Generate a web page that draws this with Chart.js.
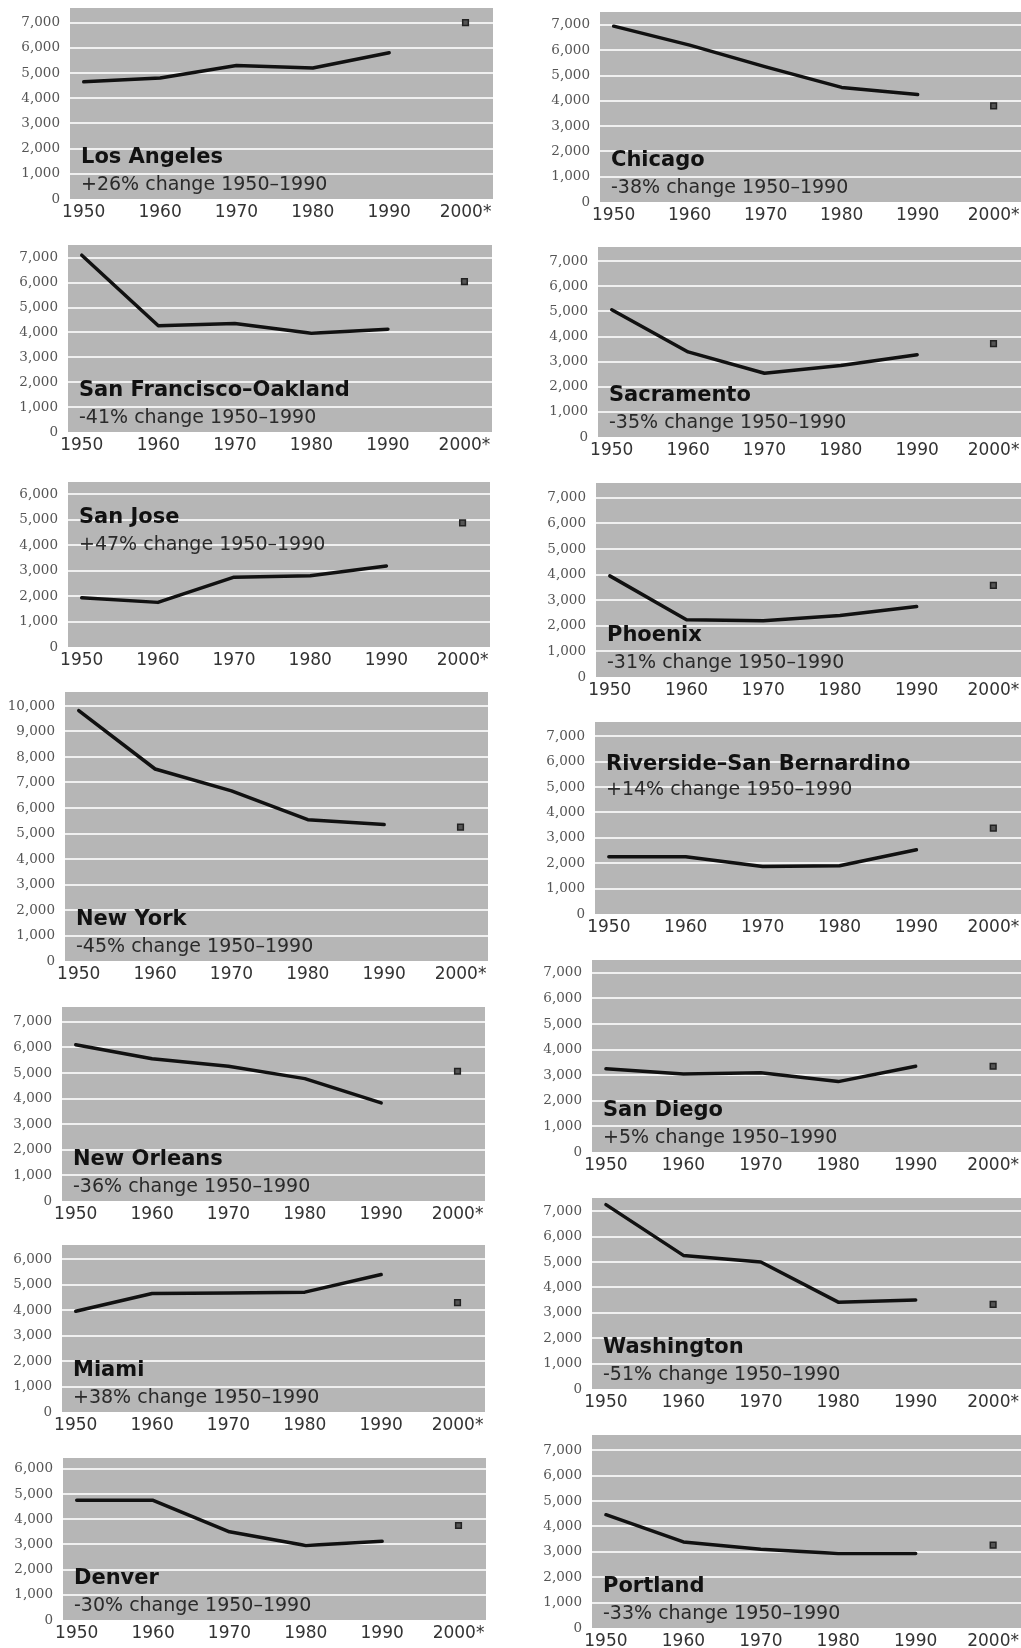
<!DOCTYPE html>
<html><head><meta charset="utf-8">
<script src="https://cdn.jsdelivr.net/npm/chart.js@4.4.1/dist/chart.umd.min.js"></script>
<style>
html,body{margin:0;padding:0;background:#fff;}
body{width:1021px;height:1648px;position:relative;overflow:hidden;}
.panel{position:absolute;}
</style></head><body>
<script>
// ---- data ----
const years = [1950, 1960, 1970, 1980, 1990];
const projectionYear = 2000;
const xTickYears = [1950, 1960, 1970, 1980, 1990, 2000];
const xTickLabels = ['1950', '1960', '1970', '1980', '1990', '2000*'];
const yTicks6000 = [0, 1000, 2000, 3000, 4000, 5000, 6000];
const yTicks7000 = [0, 1000, 2000, 3000, 4000, 5000, 6000, 7000];
const yTicks10000 = [0, 1000, 2000, 3000, 4000, 5000, 6000, 7000, 8000, 9000, 10000];

const cities = ['Los Angeles', 'Chicago', 'San Francisco–Oakland', 'Sacramento', 'San Jose', 'Phoenix',
  'New York', 'Riverside–San Bernardino', 'New Orleans', 'San Diego', 'Miami', 'Washington', 'Denver', 'Portland'];
const changeLabels = ['+26% change 1950–1990', '-38% change 1950–1990', '-41% change 1950–1990',
  '-35% change 1950–1990', '+47% change 1950–1990', '-31% change 1950–1990', '-45% change 1950–1990',
  '+14% change 1950–1990', '-36% change 1950–1990', '+5% change 1950–1990', '+38% change 1950–1990',
  '-51% change 1950–1990', '-30% change 1950–1990', '-33% change 1950–1990'];

const losAngeles = [4650, 4800, 5300, 5200, 5800];
const chicago = [6950, 6200, 5340, 4530, 4250];
const sanFranciscoOakland = [7100, 4270, 4360, 3970, 4130];
const sacramento = [5070, 3390, 2540, 2850, 3280];
const sanJose = [1930, 1750, 2740, 2790, 3180];
const phoenix = [3950, 2240, 2200, 2400, 2750];
const newYork = [9820, 7530, 6670, 5540, 5350];
const riversideSanBernardino = [2250, 2250, 1870, 1900, 2530];
const newOrleans = [6100, 5560, 5260, 4780, 3830];
const sanDiego = [3250, 3050, 3100, 2750, 3350];
const miami = [3950, 4650, 4670, 4700, 5390];
const washington = [7260, 5260, 5000, 3420, 3500];
const denver = [4750, 4750, 3500, 2960, 3125];
const portland = [4460, 3390, 3100, 2930, 2930];
const projected2000 = [7000, 3800, 6040, 3720, 4870, 3580, 5250, 3380, 5070, 3350, 4290, 3330, 3750, 3260];

const series = [losAngeles, chicago, sanFranciscoOakland, sacramento, sanJose, phoenix, newYork,
  riversideSanBernardino, newOrleans, sanDiego, miami, washington, denver, portland];
const yTickSets = [yTicks7000, yTicks7000, yTicks7000, yTicks7000, yTicks6000, yTicks7000, yTicks10000,
  yTicks7000, yTicks7000, yTicks7000, yTicks6000, yTicks7000, yTicks6000, yTicks7000];

// ---- layout (pixels) ----
const layout = [
  {left:70, right:493, top:8, zero:199, per:25.2},
  {left:600, right:1021, top:12, zero:202, per:25.3},
  {left:68, right:492, top:245, zero:432, per:24.9},
  {left:598, right:1021, top:247, zero:437, per:25.1},
  {left:68, right:490, top:482, zero:647, per:25.5, tTop:41, sTop:68},
  {left:596, right:1021, top:483, zero:677, per:25.6},
  {left:65, right:488, top:692, zero:961, per:25.5},
  {left:595, right:1021, top:722, zero:914, per:25.4, tTop:48, sTop:73},
  {left:62, right:485, top:1007, zero:1201, per:25.6},
  {left:592, right:1021, top:960, zero:1152, per:25.6},
  {left:62, right:485, top:1245, zero:1412, per:25.5},
  {left:592, right:1021, top:1198, zero:1389, per:25.4},
  {left:63, right:486, top:1458, zero:1620, per:25.2},
  {left:592, right:1021, top:1435, zero:1628, per:25.4}
];

const BG = '#b6b6b6';
const GRID = '#f0f0f0';

const bgPlugin = {
  id: 'panelBg',
  beforeDraw(chart) {
    const a = chart.chartArea, ctx = chart.ctx;
    ctx.save(); ctx.fillStyle = BG;
    ctx.fillRect(a.left, a.top, a.right - a.left, a.bottom - a.top);
    ctx.restore();
  }
};
const labelPlugin = {
  id: 'panelLabels',
  afterDraw(chart, args, opts) {
    const a = chart.chartArea, ctx = chart.ctx;
    const p = opts.pos;
    const x = a.left + 11;
    const ty = p.tTop != null ? a.top + p.tTop : a.bottom - 36;
    const sy = p.sTop != null ? a.top + p.sTop : a.bottom - 9;
    ctx.save();
    ctx.textBaseline = 'alphabetic'; ctx.textAlign = 'left';
    ctx.fillStyle = '#111';
    ctx.font = 'bold 21px "DejaVu Sans"';
    ctx.fillText(opts.title, x, ty);
    ctx.fillStyle = '#2a2a2a';
    ctx.font = '19px "DejaVu Sans"';
    ctx.fillText(opts.sub, x, sy);
    ctx.restore();
  }
};

function makePanel(i) {
  const p = layout[i];
  const yAxisW = Math.min(70, p.left);
  const xAxisH = 26;
  const left = p.left - yAxisW;
  const w = p.right - left;
  const h = (p.zero - p.top) + xAxisH;
  const div = document.createElement('div');
  div.className = 'panel';
  div.style.left = left + 'px'; div.style.top = p.top + 'px';
  div.style.width = w + 'px'; div.style.height = h + 'px';
  const canvas = document.createElement('canvas');
  div.appendChild(canvas); document.body.appendChild(div);
  const yMax = (p.zero - p.top) / p.per * 1000;
  const yTicks = yTickSets[i];
  new Chart(canvas, {
    type: 'line',
    data: {
      datasets: [
        {
          data: years.map((yr, k) => ({x: yr, y: series[i][k]})),
          borderColor: '#111', borderWidth: 3.5, pointRadius: 0, pointHoverRadius: 0, tension: 0,
          borderJoinStyle: 'round', borderCapStyle: 'round', fill: false
        },
        {
          data: [{x: projectionYear, y: projected2000[i]}],
          showLine: false, pointStyle: 'rect', pointRadius: 4, pointHoverRadius: 4,
          backgroundColor: '#555', borderColor: '#222', borderWidth: 1.5
        }
      ]
    },
    options: {
      responsive: true, maintainAspectRatio: false, animation: false,
      layout: {padding: 0, autoPadding: false},
      events: [],
      plugins: {
        legend: {display: false}, tooltip: {enabled: false},
        panelLabels: {title: cities[i], sub: changeLabels[i], pos: p}
      },
      scales: {
        x: {
          type: 'linear', min: 1948.2, max: 2003.6,
          grid: {display: false, drawTicks: false},
          border: {display: false},
          afterBuildTicks: s => { s.ticks = xTickYears.map(v => ({value: v})); },
          afterFit: s => { s.height = xAxisH; s.paddingLeft = 0; s.paddingRight = 0; },
          ticks: {
            autoSkip: false, maxRotation: 0, padding: 3, color: '#333',
            font: {family: 'DejaVu Sans', size: 17},
            callback: v => xTickLabels[xTickYears.indexOf(v)]
          }
        },
        y: {
          type: 'linear', min: 0, max: yMax,
          grid: {
            drawTicks: false, lineWidth: 2,
            color: c => (c.tick && c.tick.value === 0) ? 'rgba(0,0,0,0)' : GRID
          },
          border: {display: false},
          afterBuildTicks: s => { s.ticks = yTicks.map(v => ({value: v})); },
          afterFit: s => { s.width = yAxisW; s.paddingTop = 0; s.paddingBottom = 0; },
          ticks: {
            autoSkip: false, padding: 10, color: '#555',
            font: {family: 'DejaVu Serif', size: 13.5},
            callback: v => Number(v).toLocaleString('en-US')
          }
        }
      }
    },
    plugins: [bgPlugin, labelPlugin]
  });
}
for (let i = 0; i < cities.length; i++) makePanel(i);
</script>
</body></html>
